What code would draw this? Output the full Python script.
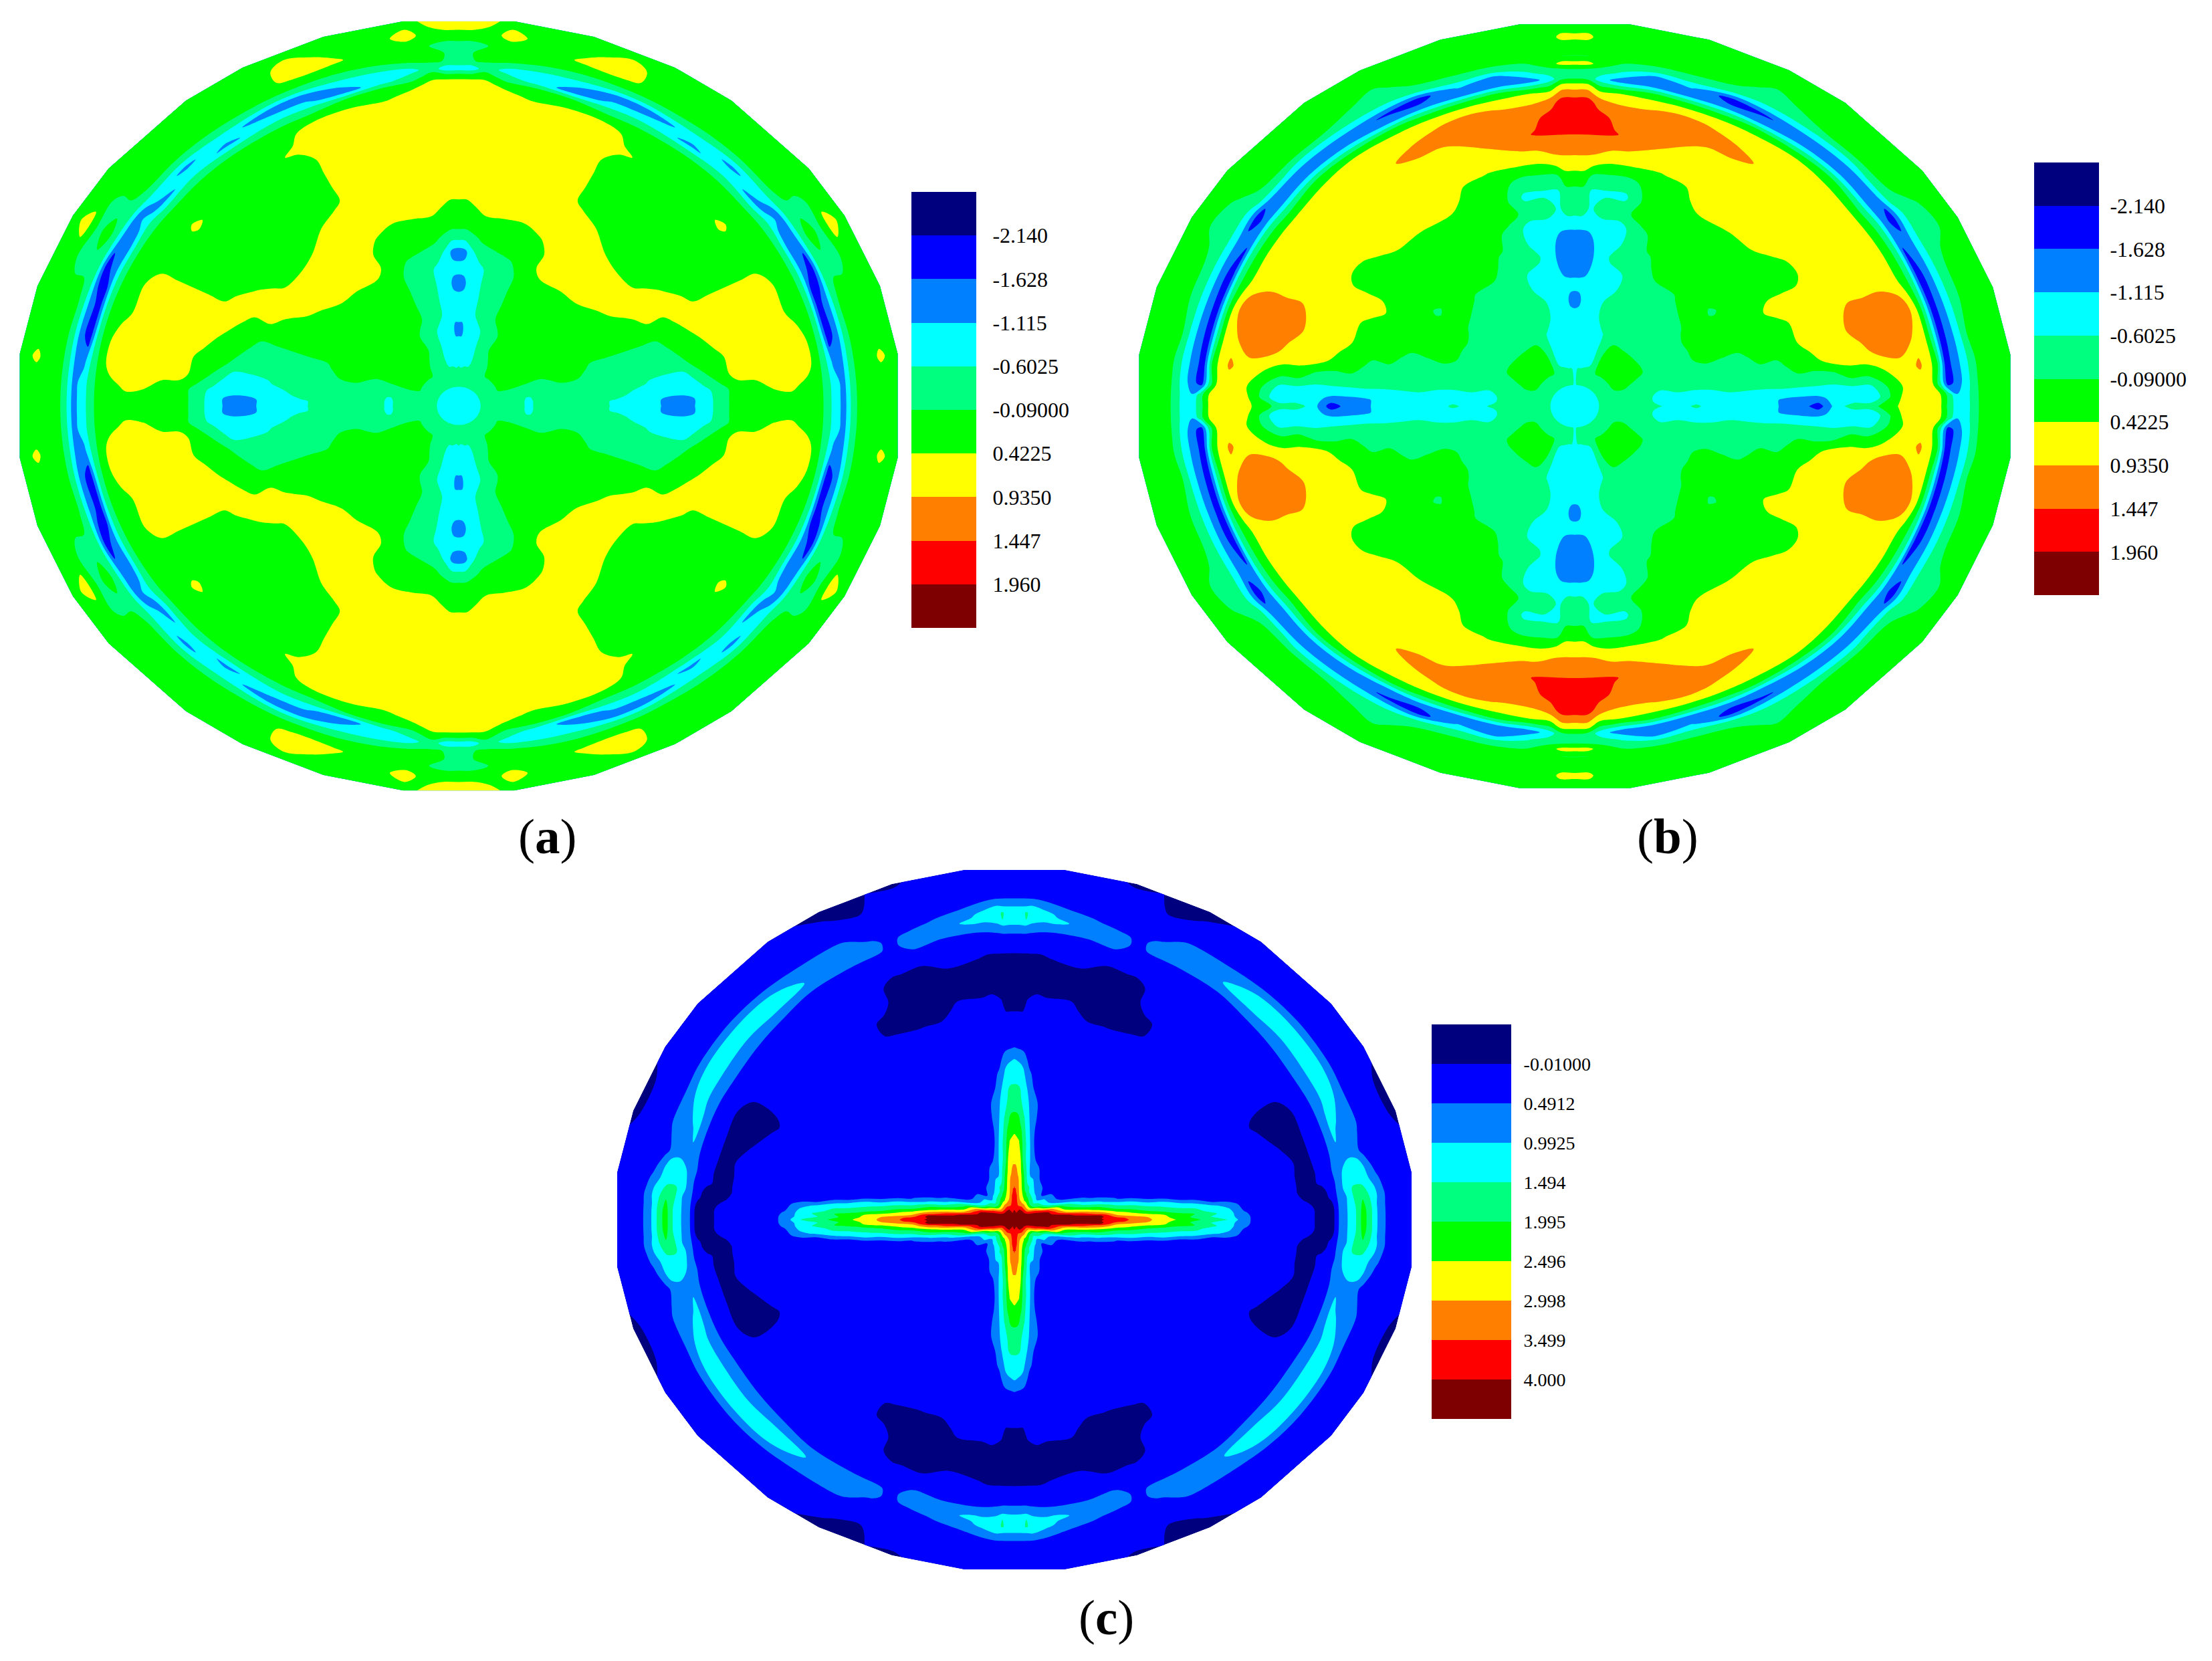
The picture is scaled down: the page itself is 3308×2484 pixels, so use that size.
import numpy as np, plotly.graph_objects as go
W,H=3308,2484
LEG_AB=['-2.140','-1.628','-1.115','-0.6025','-0.09000','0.4225','0.9350','1.447','1.960']
LEG_C=['-0.01000','0.4912','0.9925','1.494','1.995','2.496','2.998','3.499','4.000']
COL=['#00007f','#0000ff','#007fff','#00ffff','#00ff7f','#00ff00','#ffff00','#ff7f00','#ff0000','#7f0000']
CORN=[7.7,18,29.4,37.8,52,60.8,72.2,82.8]
# radius / angle nodes of the polar sampling grid (quadrant; mirrored below)
R_AB=[.0001,.04,.08,.12,.16,.20,.24,.28,.32,.36,.40,.44,.48,.52,.56,.60,.64,.68,.72,.76,.80,.82,.84,.86,.88,.90,.92,.94,.97,1.0]
TH_AB=[0,2,4,7.7,12,18,24,29.4,34,37.8,45,52,60.8,66,72.2,78,82.8,86,88,90]
R_C=[.0001,.03,.06,.09,.13,.18,.22,.26,.30,.34,.38,.42,.46,.50,.54,.58,.62,.66,.70,.74,.78,.80,.82,.84,.86,.88,.90,.92,.94,.97,1.0]
TH_C=[0,1,2,3,4.5,6,7.7,10,13,18,24,29.4,37.8,45,52,60.8,66,68,72.2,77,82.8,85,87,88,89,90]
def rw(h,t,nh=20,nt=10):
    return list(h)+[.2]*(nh-len(h))+list(t)+[.2]*(nt-len(t))
A=[
rw([-.9,-.7,-.3,-.3,-.7,-.3,-.3,-.3,-.3,-.8,-.9,-.9,-1.3,-1.3,-.9,-.3,.2,.2,.2,.2],[.2,.2,-.3,-.9,-1.3,-.3]),
rw([-.9,-.7,-.3,-.3,-.7,-.3,-.3,-.3,-.3,-.8,-.9,-.9,-1.3,-1.3,-.9,-.3,.2,.2,.2,.3],[.2,.2,-.3,-.9,-1.3,-.3]),
rw([-.9,-.7,-.3,-.3,-.7,-.3,-.3,-.3,-.3,-.3,-.9,-.9,-.9,-.9,-.8,-.3,.2,.2,.5,.6],[.2,.2,-.3,-.9,-1.3,-.3]),
rw([-.9,-.7,-.3,-.3,-.65,-.3,-.3,-.3,-.3,-.3,-.3,-.7,-.9,-.9,-.3,.2,.6,.7,.7,.7],[.7,.2,-.3,-1.2,-1.3,-.3,.2,.2,.5]),
rw([-.9,-.7,-.3,-.3,-.3,-.3,-.3,-.3,-.3,-.3,-.3,-.3,-.3,-.3,.2,.2,.7,.7,.7,.7],[.7,.2,-.3,-1.9,-1.4,-.3]),
rw([-.9,-.7,-.3,-.3,-.3,-.3,.2,.2,-.3,-.3,-.3,-.3,-.3,.2,.2,.7,.7,.7,.7,.7],[.2,.2,-.3,-1.9,-1.4,-.3]),
rw([-.9,-.7,-.3,.2,.2,.2,.2,.2,.2,.2,.2,.2,.2,.2,.7,.7,.7,.7,.7,.7],[.2,.2,-.3,-1.4,-1.9,-.3,-.3,-.3]),
rw([-.9,-.7,-.3,.2,.2,.2,.2,.2,.2,.2,.2,.2,.7,.7,.7,.2,.2,.2,.2,.2],[.2,.2,-.3,-1.4,-1.4,-.3,.2,-.3,.6]),
rw([-.9,-.7,-.3,.2,.2,.2,.2,.2,.2,.2,.2,.7,.7,.7,.2,.2,.2,.2,.2,.2],[.2,.2,-.3,-.9,-1.4,-.3,-.3,-.3]),
rw([-.9,-.7,-.3,.2,.2,.2,.2,.2,.2,.2,.4,.7,.7,.2,.2,.2,.2,.2,.2,.5],[.2,.2,-.4,-1.3,-.9,-.3]),
rw([-.9,-.7,-.3,.2,.2,.2,.2,.2,.2,.2,.7,.7,.7,.2,.2,.2,.2,.2,.2,.2],[.2,.2,-.3,-.9,-1.2,-.3]),
rw([-.9,-.7,-.3,.2,.2,.2,.2,.2,.2,.2,.7,.7,.7,.5,.2,.2,.2,.2,.2,.2],[.2,.2,-.3,-1.2,-.9,-.3]),
rw([-.9,-.7,-.3,-.3,.2,.2,.2,.2,.2,.2,.7,.7,.7,.7,.7,.2,.2,.2,.2,.5],[.3,.2,-.3,-.9,-1.4,-.3]),
rw([-.9,-.7,-.3,-.3,-.2,-.3,.2,.2,.2,.2,.2,.2,.5,.7,.7,.7,.7,.7,.7,.7],[.7,.2,-.3,-1.0,-1.4,-.3,.2,.6,.6]),
rw([-.9,-.7,-.3,-.3,-.3,-.3,-.3,-.3,-.3,-.3,-.05,.2,.2,.7,.7,.7,.7,.7,.7,.7],[.7,.3,-.1,-1.4,-.9,-.3,.2,.5,.3]),
rw([-.9,-.7,-.3,-.8,-.8,-.8,-.3,-.3,-.3,-.3,-.2,.2,.2,.7,.7,.7,.7,.7,.7,.7],[.7,.2,.2,-.8,-.9,-.2]),
rw([-.9,-.7,-.3,-.8,-.8,-.8,-.8,-.8,-.8,-.8,-.3,.0,.2,.7,.7,.7,.7,.7,.7,.7],[.7,.7,.2,-.3,-.8,-.1,.2,.2,.6]),
rw([-.9,-.7,-.3,-.9,-.9,-.9,-.9,-.9,-.9,-.9,-.8,-.2,.2,.4,.7,.7,.7,.7,.7,.7],[.7,.7,.7,.2,-.3,-.05,.2,-.1,.2,.6]),
rw([-.9,-.7,-.3,-.9,-.9,-1.3,-.9,-.9,-1.3,-.9,-1.3,-.4,.2,.2,.7,.7,.7,.7,.7,.7],[.7,.7,.7,.2,-.9,-.1,-.1,-.3,.3,.7]),
rw([-.9,-.7,-.3,-.8,-.9,-1.3,-.9,-.9,-1.4,-.9,-1.4,-.4,.2,.2,.7,.7,.7,.7,.7,.7],[.7,.7,.7,.2,-.9,-.1,-.1,-.3,.3,.7]),
]
B=[
rw([-.9,-.8,-.3,-.3,-.3,-.6,-.8,-.5,-.9,-.9,-.9,-.9,-1.2,-1.4,-1.9,-.9,-.3,-.3,.2,.6],[.7,.7,.5,-.3,-.9,-.8,-.3]),
rw([-.9,-.8,-.3,-.3,-.4,-.7,-.9,-.7,-.9,-.9,-.9,-.9,-1.2,-1.3,-1.3,-.9,-1.1,-1.1,-.2,.6],[.7,.7,.5,-.3,-1.1,-.8,-.3]),
rw([-.9,-.8,-.3,-.3,-.5,-.7,-.8,-.8,-.8,-.9,-.9,-.9,-.8,-.8,-.8,-.8,-.8,-.8,-.1,.5],[.7,.7,-.3,-1.9,-1.4,-.9,-.3]),
rw([-.9,-.8,-.3,-.3,-.5,-.7,-.7,-.7,-.6,-.3,-.3,-.3,-.3,-.3,-.3,-.3,.2,.2,.45,.7],[1.0,.7,.0,-1.9,-1.4,-.9,-.3]),
rw([-.9,-.8,-.3,-.3,-.3,-.6,-.3,-.3,-.3,-.3,-.3,-.3,-.3,.2,.2,.7,.7,.8,1.2,1.2],[.8,.7,-.3,-1.9,-1.4,-.8,-.1]),
rw([-.9,-.8,-.3,-.3,-.3,-.3,-.3,-.3,-.3,-.3,-.3,.2,.2,.2,.7,.7,.8,1.2,1.2,1.2],[1.2,.7,-.3,-1.9,-1.4,-.7,-.3]),
rw([-.9,-.8,-.3,.1,-.3,-.3,-.3,-.3,.2,.2,.2,.2,.2,.2,.7,.7,.7,.9,.9,.9],[.7,.2,-.3,-1.9,-1.4,-.7,-.3,.1]),
rw([-.9,-.8,-.3,.2,.1,-.3,-.3,-.3,.2,.2,.2,.2,.2,.7,.7,.7,.7,.7,.7,.7],[.7,.2,-.3,-1.6,-1.4,-.7,-.3,-.3,.0]),
rw([-.9,-.8,-.3,.2,.2,-.3,-.3,-.3,.2,.2,.2,.2,.2,.2,.2,.2,.7,.7,.7,.7],[.7,.2,-.3,-1.4,-1.9,-.8,-.3,-.3]),
rw([-.9,-.8,-.3,.2,.2,-.3,-.3,-.3,.0,.2,-.2,.2,.2,.2,.2,.2,.7,.7,.7,.7],[.7,.2,-.4,-1.4,-1.4,-.5,-.1]),
rw([-.9,-.8,-.3,.2,.2,-.3,-.3,-.3,-.3,.2,.2,.2,.2,.2,.2,.7,.7,.7,.7,.7],[.7,.4,-.1,-1.1,-1.4,-.7,.0]),
rw([-.9,-.8,-.3,.2,.2,-.3,-.3,-.3,-.3,-.2,.2,.2,.2,.2,.2,.7,.7,.7,.7,.7],[.7,.6,-.1,-1.1,-1.4,-.7,-.1]),
rw([-.9,-.8,-.3,.2,.2,-.3,-.3,-.3,-.3,-.3,.2,.2,.2,.2,.2,.7,.7,.7,.7,1.1],[.7,.5,-.1,-1.4,-1.7,-.7,-.3,-.3]),
rw([-.9,-.8,-.3,-.3,-.3,-.4,-.3,-.3,-.3,-.3,-.3,.0,.2,.2,.2,.2,.5,.7,.7,1.1],[.9,.5,-.2,-1.4,-1.9,-.6,-.1]),
rw([-.9,-.8,-.3,-.7,-.7,-.65,-.3,-.3,-.6,-.6,-.3,-.3,-.3,.2,.2,.2,.4,.7,1.0,1.2],[1.0,.5,-.2,-1.6,-1.0,-.3,.1]),
rw([-.9,-.8,-.3,-.8,-.8,-.8,-.7,-.7,-.7,-.7,-.55,-.8,-.8,-.3,-.7,-.3,.4,.9,1.2,1.2],[.9,.5,-.1,-1.4,-1.4,-.3,.1]),
rw([-.9,-.8,-.3,-.9,-.9,-.9,-.8,-.8,-.8,-.9,-1.0,-.8,-.8,-.3,-.7,-.3,.4,1.0,1.5,1.3],[.9,.7,-.2,-1.4,-.7,-.2]),
rw([-.9,-.8,-.3,-.9,-.9,-.9,-.9,-.9,-.9,-1.3,-1.4,-1.4,-.8,-.7,-.7,-.3,.6,1.2,1.5,1.7],[1.2,.7,.0,-.9,-.3,.1]),
rw([-.9,-.8,-.65,-.9,-1.1,-.9,-.9,-1.3,-.9,-1.4,-1.4,-1.4,-.9,-.3,-.3,.2,.7,1.2,1.5,1.7],[1.7,1.2,.7,-.2,-.4,.6,-.1,.2,.5]),
rw([-.9,-.8,-.65,-.9,-1.1,-.9,-.9,-1.4,-.9,-1.4,-1.4,-1.4,-.9,-.3,-.3,.2,.7,1.2,1.5,1.7],[1.7,1.2,.7,-.1,-.3,.6,-.1,.2,.5]),
]
def rc(h,t): return rw(h,t,16,15)
C=[
rc([4.4,4.4,4.4,4.4,4.4,4.3,4.05,3.75,3.4,3.06,2.72,2.39,2.07,1.77,1.48,.67],[.2,.2,.2,.2,-.3,-.3,.6,1.0,1.45,2.25,1.55,.8,.4]),
rc([4.4,4.4,4.4,4.4,4.4,4.25,4.0,3.7,3.3,3.0,2.6,2.2,1.85,1.45,1.2,.65],[.2,.2,.2,.2,-.3,-.3,.6,1.0,1.45,2.25,1.55,.8,.4]),
rc([4.4,4.4,4.4,4.4,4.35,4.2,4.1,3.3,3.0,2.8,2.5,2.25,1.95,1.6,1.2,.55],[.2,.2,.2,.2,-.3,-.3,.6,1.0,1.45,2.2,1.55,.8,.4]),
rc([4.4,4.4,4.4,4.35,4.3,4.2,4.0,3.0,2.7,2.4,2.1,1.8,1.65,1.3,1.1,.4],[.2,.2,.2,.1,-.3,-.2,.6,1.0,1.5,2.1,1.5,.8,.4]),
rc([4.4,4.4,4.35,4.3,4.2,3.8,3.3,2.7,2.3,1.9,1.7,1.5,1.4,1.1,.8,.3],[.2,.2,.2,-.1,-.3,.1,.6,1.0,1.6,1.9,1.4,.9,.4]),
rc([4.4,4.4,4.3,4.3,4.1,3.4,2.9,2.2,1.9,1.6,1.4,1.2,.9,.4,.3,.2],[.2,.2,.2,-.3,-.2,.2,.6,1.2,1.6,1.6,1.3,.8,.3]),
rc([4.4,4.4,4.3,4.3,3.6,2.9,2.3,1.8,1.55,1.2,1.0,.5,.25],[.2,.2,.2,-.3,.1,.2,.6,1.2,1.3,1.3,1.0,.6]),
rc([4.4,4.4,4.3,4.1,3.0,2.3,1.9,1.3,1.0,.5],[.2,.2,.2,-.3,.1,.2,.7,1.0,1.3,1.3,.8,.3]),
rc([4.4,4.4,4.2,4.0,2.5,1.6,1.1,.55],[.2,.2,.2,-.2,.1,.2,.6,.9,.8,.7,.3]),
rc([4.4,4.3,4.1,3.4,1.9,.7,.3],[.2,.2,-.1,-.3,.2,.2,.6,1.1,.9,.7,.6,.2,.2,.2,-.2]),
rc([4.4,4.3,3.6,1.9,.6],[.2,-.1,-.3,-.3,.2,.2,.6,.9,1.3,1.0,.6,.2,.2,.2,-.2]),
rc([4.4,4.2,3.0,1.2,.3],[.2,.2,.2,.2,.2,.2,.7,.9,1.3,1.3,.7,.3]),
rc([4.4,4.1,2.0,1.1,.25],[.2,.2,.2,.2,.2,.2,.6,.8,1.3,1.3,.8,.3]),
rc([4.4,4.1,1.8,.55],[.2,.2,.2,.2,.2,.2,.5,.9,1.3,1.3,.7,.3]),
rc([4.4,4.1,2.0,.9,.25],[.2,.2,.2,.2,.2,.2,.3,.7,1.0,.8,.6]),
rc([4.4,4.1,2.4,1.2,.5],[-.1,-.1,.2,.2,.2,.2,.2,.7,.8,.8,.6,.2,.2,.05,-.2]),
rc([4.4,4.1,2.5,1.5,.8],[-.3,-.3,-.3,-.2,.2,.2,.2,.6,.7,.4,.2,.2,.2,-.2,-.3]),
rc([4.4,4.0,2.6,1.7,.9,.3],[-.3,-.3,-.3,-.2,.2,.2,.2,.3,.3,.3,.2,.2,.2,.2,.0]),
rc([4.4,3.9,2.8,1.9,1.0,.45],[-.3,-.3,-.3,-.3,.2,.2,.6,.8,.7,.2,.2,.2,.2,.2,-.1]),
rc([4.4,3.8,3.0,2.4,1.6,.95,.5],[.2,-.2,-.3,.0,.2,.2,.4,.8,.8,.6]),
rc([4.4,3.9,3.4,3.0,2.6,1.8,1.6,1.25,1.0,.75,.5,.25],[.2,-.2,-.3,-.1,.2,.2,.3,.8,1.1,.9,.6]),
rc([4.4,3.9,3.6,3.3,2.9,2.5,2.05,1.75,1.45,1.25,.95,.65],[.2,-.1,-.3,-.3,.2,.2,.35,.8,1.05,1.2,.75,.4]),
rc([4.4,3.95,3.7,3.4,3.05,2.75,2.55,2.2,1.75,1.5,1.35,1.1,.8],[.1,-.3,-.3,-.3,.2,.2,.45,.8,1.2,1.3,1.0,.5]),
rc([4.4,3.95,3.7,3.5,3.15,2.8,2.6,2.3,2.0,1.7,1.5,1.2,.9,.3],[-.3,-.3,-.3,-.3,.2,.2,.5,.9,1.5,1.55,.95,.5]),
rc([4.4,3.95,3.75,3.5,3.2,2.85,2.65,2.35,2.05,1.75,1.55,1.25,.95,.35],[-.3,-.3,-.3,-.3,.2,.2,.5,.9,1.3,1.3,.95,.5]),
rc([4.4,3.95,3.75,3.55,3.2,2.85,2.67,2.4,2.05,1.79,1.55,1.28,1.0,.4],[-.3,-.3,-.3,-.3,.2,.2,.5,.9,1.3,1.3,.95,.5]),
]
def full(th,q):
    q=np.array(q); t=np.array(th,float)
    T=np.r_[t,180-t[-2::-1],180+t[1:],360-t[-2::-1]]
    Z=np.vstack([q,q[-2::-1],q[1:],q[-2::-1]])
    return T,Z
corners=np.array(CORN+[180-x for x in CORN[::-1]]+[180+x for x in CORN]+[360-x for x in CORN[::-1]])
def pr(t):
    t=t%360
    cs=np.r_[corners-360,corners,corners+360]
    i=np.searchsorted(cs,t,side='right')-1
    a,b=np.radians(cs[i]),np.radians(cs[i+1]);tt=np.radians(t)
    p=1.01*np.array([np.cos(a),np.sin(a)]);q=1.01*np.array([np.cos(b),np.sin(b)])
    d=np.array([np.cos(tt),np.sin(tt)])
    M=np.array([d,p-q]).T
    return np.linalg.solve(M,p)[0]
fig=go.Figure()
def panel(n,cx,cy,a,b,R,TH,Q,leg,lg):
    levels=[float(s) for s in leg]
    T,Z=full(TH,Q)
    rr=np.array(R)
    X=[];Y_=[]
    for t in T:
        rs=rr.copy(); rs[-1]=pr(t)
        X.append(rs*np.cos(np.radians(t)));Y_.append(rs*np.sin(np.radians(t)))
    ax=dict(showticklabels='none',showgrid=False,showline=False,startline=False,endline=False,minorgridcount=0,smoothing=0,type='linear')
    xn,yn=('x%d'%n,'y%d'%n)
    fig.add_trace(go.Carpet(a=R,b=T,x=X,y=Y_,carpet='c%d'%n,xaxis=xn,yaxis=yn,aaxis=ax,baxis=ax))
    cs=[]
    lo=levels[0]-(levels[1]-levels[0]);hi=levels[-1]+(levels[-1]-levels[-2])
    edges=[lo]+levels+[hi]
    for i,col in enumerate(COL):
        cs+=[[(edges[i]-lo)/(hi-lo),col],[(edges[i+1]-lo)/(hi-lo),col]]
    fig.add_trace(go.Contourcarpet(a=R,b=T,z=Z,carpet='c%d'%n,autocontour=False,contours=dict(start=levels[0],end=levels[-1],size=(levels[-1]-levels[0])/8,coloring='fill',showlines=False),line=dict(width=0),colorscale=cs,zmin=lo,zmax=hi,showscale=False,xaxis=xn,yaxis=yn))
    sp=1.03
    fig.layout['xaxis%d'%n]=dict(domain=[(cx-sp*a)/W,(cx+sp*a)/W],range=[-sp,sp],visible=False)
    fig.layout['yaxis%d'%n]=dict(domain=[1-(cy+sp*b)/H,1-(cy-sp*b)/H],range=[-sp,sp],visible=False)
    x0,x1,y0,y1,fs,gap=lg
    k=n+3
    lc=[]
    for i,col in enumerate(COL):
        lc+=[[i/10,col],[(i+1)/10,col]]
    fig.add_trace(go.Heatmap(z=[[i] for i in range(10)],x=[0],y=list(range(10)),colorscale=lc,zmin=-.5,zmax=9.5,showscale=False,xaxis='x%d'%k,yaxis='y%d'%k))
    fig.layout['xaxis%d'%k]=dict(domain=[x0/W,x1/W],visible=False)
    fig.layout['yaxis%d'%k]=dict(domain=[1-y1/H,1-y0/H],range=[9.5,-.5],side='right',anchor='x%d'%k,tickmode='array',tickvals=[i+.5 for i in range(len(leg))],ticktext=leg,ticks='outside',ticklen=gap,tickcolor='rgba(0,0,0,0)',tickfont=dict(family='Liberation Serif',size=fs,color='black'),showgrid=False,zeroline=False,showline=False)
panel(1,686,607,656,574,R_AB,TH_AB,A,LEG_AB,(1363,1460,287,939,32,17))
panel(2,2355,607.5,651,570,R_AB,TH_AB,B,LEG_AB,(3042,3139,243,890,32,9))
panel(3,1517,1824,593.5,522,R_C,TH_C,C,LEG_C,(2141,2260,1532,2122,28,12))
for t,x,y in [('(<b>a</b>)',818,1250),('(<b>b</b>)',2494,1250),('(<b>c</b>)',1654,2418)]:
    fig.add_annotation(text=t,x=x/W,y=1-y/H,xref='paper',yref='paper',xanchor='center',yanchor='middle',showarrow=False,font=dict(family='Liberation Serif',size=75,color='black'))
fig.update_layout(width=W,height=H,margin=dict(l=0,r=0,t=0,b=0),paper_bgcolor='white',plot_bgcolor='white',showlegend=False)
fig.write_html('out.html',config=dict(displayModeBar=False),post_script="document.body.style.margin='0';")
